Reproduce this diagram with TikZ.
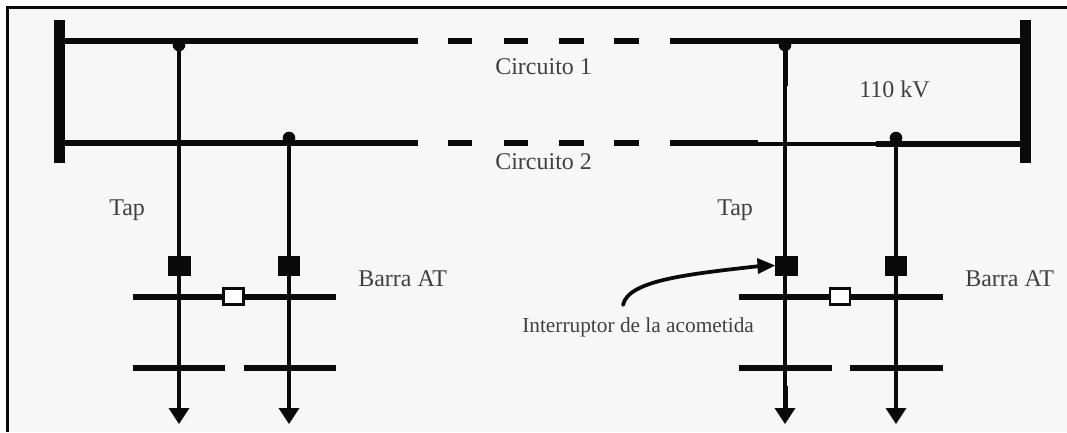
\documentclass[tikz,border=0pt]{standalone}
\usepackage{fontspec}
\setmainfont{Liberation Serif}
\usetikzlibrary{calc}
\definecolor{ink}{HTML}{0A0A0A}
\definecolor{paper}{HTML}{F7F7F7}
\definecolor{txt}{HTML}{404040}
\tikzset{
 x=0.75pt,y=-0.75pt,
 bus/.style={draw=ink,line width=3.9pt},
 line1/.style={draw=ink,line width=3pt},
 feeder/.style={draw=ink,line width=2.6pt},
 endbar/.style={draw=none,fill=ink,minimum width=8.25pt,minimum height=107pt,inner sep=0pt},
 brk/.style={draw=none,fill=ink,minimum width=17pt,minimum height=14.5pt,inner sep=0pt},
 tie/.style={draw=ink,fill=white,line width=2.1pt,minimum width=15pt,minimum height=12.2pt,inner sep=0pt},
 dot/.style={circle,fill=ink,draw=none,minimum size=9.5pt,inner sep=0pt},
 lab/.style={text=txt,inner sep=0pt,font=\fontsize{18}{20}\selectfont},
 small/.style={text=txt,inner sep=0pt,font=\fontsize{16}{18}\selectfont},
}
\begin{document}
\begin{tikzpicture}
\useasboundingbox (0,0) rectangle (1067,432);
\fill[white] (0,0) rectangle (1067,432);
\fill[paper] (8,8) rectangle (1067,432);
\draw[ink,line width=1.9pt] (7.5,432) -- (7.5,7.5) -- (1067,7.5);
% end bars
\node[endbar] (L) at (59.5,91.5) {};
\node[endbar] (R) at (1025,91.5) {};
% circuit coordinates
\coordinate (a1) at (65,41); \coordinate (a2) at (418,41);
\coordinate (b1) at (65,143); \coordinate (b2) at (418,143);
\coordinate (c2) at (1020,41); \coordinate (c1) at (670,41);
\coordinate (d1) at (670,143); \coordinate (d2) at (758,143);
\coordinate (d3) at (876,144); \coordinate (d4) at (1020,144);
\draw[bus] (a1) -- (a2); \draw[bus] (b1) -- (b2);
\draw[bus] (c1) -- (c2);
\draw[bus] (d1) -- (d2);
\draw[draw=ink,line width=2.3pt] (d2 |- d3) -- (d3);
\draw[bus] (d3) -- (d4);
\foreach \n/\u/\v/\yy in {p1/448/472/41,p2/504/528/41,p3/559/584/41,p4/614/639/41,q1/448/472/143,q2/504/528/143,q3/559/584/143,q4/614/639/143}{
 \coordinate (\n s) at (\u,\yy); \coordinate (\n e) at (\v,\yy);
 \draw[bus] (\n s) -- (\n e);
}
% feeders
\foreach \k/\xx/\yy/\bx in {A/179/45/179.5,B/289/138/289,C/785/45/786.5,D/896/138/896}{
 \node[dot] (dot\k) at (\xx,\yy) {};
 \node[brk] (brk\k) at (\bx,266) {};
 \coordinate (end\k) at (\xx,408);
 \draw[feeder] (dot\k.center) -- (brk\k.north -| dot\k.center);
 \draw[feeder] (brk\k.south -| dot\k.center) -- (end\k);
 \fill[ink] ($(end\k)+(-10.5,0)$) -- ($(end\k)+(10.5,0)$) -- ($(end\k)+(0,16)$) -- cycle;
}
\coordinate (thickA) at (785.5,86);
\coordinate (thickB) at (785.5,386);
\coordinate (thickC) at (785.5,408);
\draw[line1] (dotC.center -| thickA) -- (thickA);
\draw[line1] (thickB) -- (thickC);
% AT bars
\coordinate (e1) at (132.5,297); \coordinate (e2) at (336,297);
\coordinate (f1) at (739,297); \coordinate (f2) at (943,297);
\draw[draw=ink,line width=5.2pt] (e1) -- (e2);
\draw[draw=ink,line width=5.2pt] (f1) -- (f2);
\node[tie] (tL) at (233.5,296.5) {};
\node[tie] (tR) at (840,296.5) {};
\coordinate (g1) at (132.5,368); \coordinate (g2) at (225,368);
\coordinate (g3) at (243.5,368); \coordinate (g4) at (336,368);
\coordinate (h1) at (739,368); \coordinate (h2) at (831.5,368);
\coordinate (h3) at (850,368); \coordinate (h4) at (943,368);
\draw[bus,line width=4.6pt] (g1) -- (g2); \draw[bus,line width=4.6pt] (g3) -- (g4);
\draw[bus,line width=4.6pt] (h1) -- (h2); \draw[bus,line width=4.6pt] (h3) -- (h4);
% labels
\node[lab,anchor=base west] (c1t) at (495,74) {Circuito 1};
\node[lab,anchor=base west] (c2t) at (495,169) {Circuito 2};
\node[lab,anchor=base west] (kv) at (859,97) {110 kV};
\node[lab,anchor=base west] (tap1) at (109,215) {Tap};
\node[lab,anchor=base west] (tap2) at (717,215) {Tap};
\node[lab,anchor=base west] (bar1) at (358,286) {Barra AT};
\node[lab,anchor=base west] (bar2) at (965,286) {Barra AT};
\node[small,anchor=base west] (intr) at (522,332) {Interruptor de la acometida};
% arrow
\coordinate (as) at (623,305);
\coordinate (ae) at (760,266);
\draw[draw=ink,line width=2.8pt,line cap=round] (as) .. controls (628,280) and (690,274) .. (ae);
\fill[ink] (775,265.5) -- (757,258) -- (758,274) -- cycle;
\end{tikzpicture}
\end{document}
